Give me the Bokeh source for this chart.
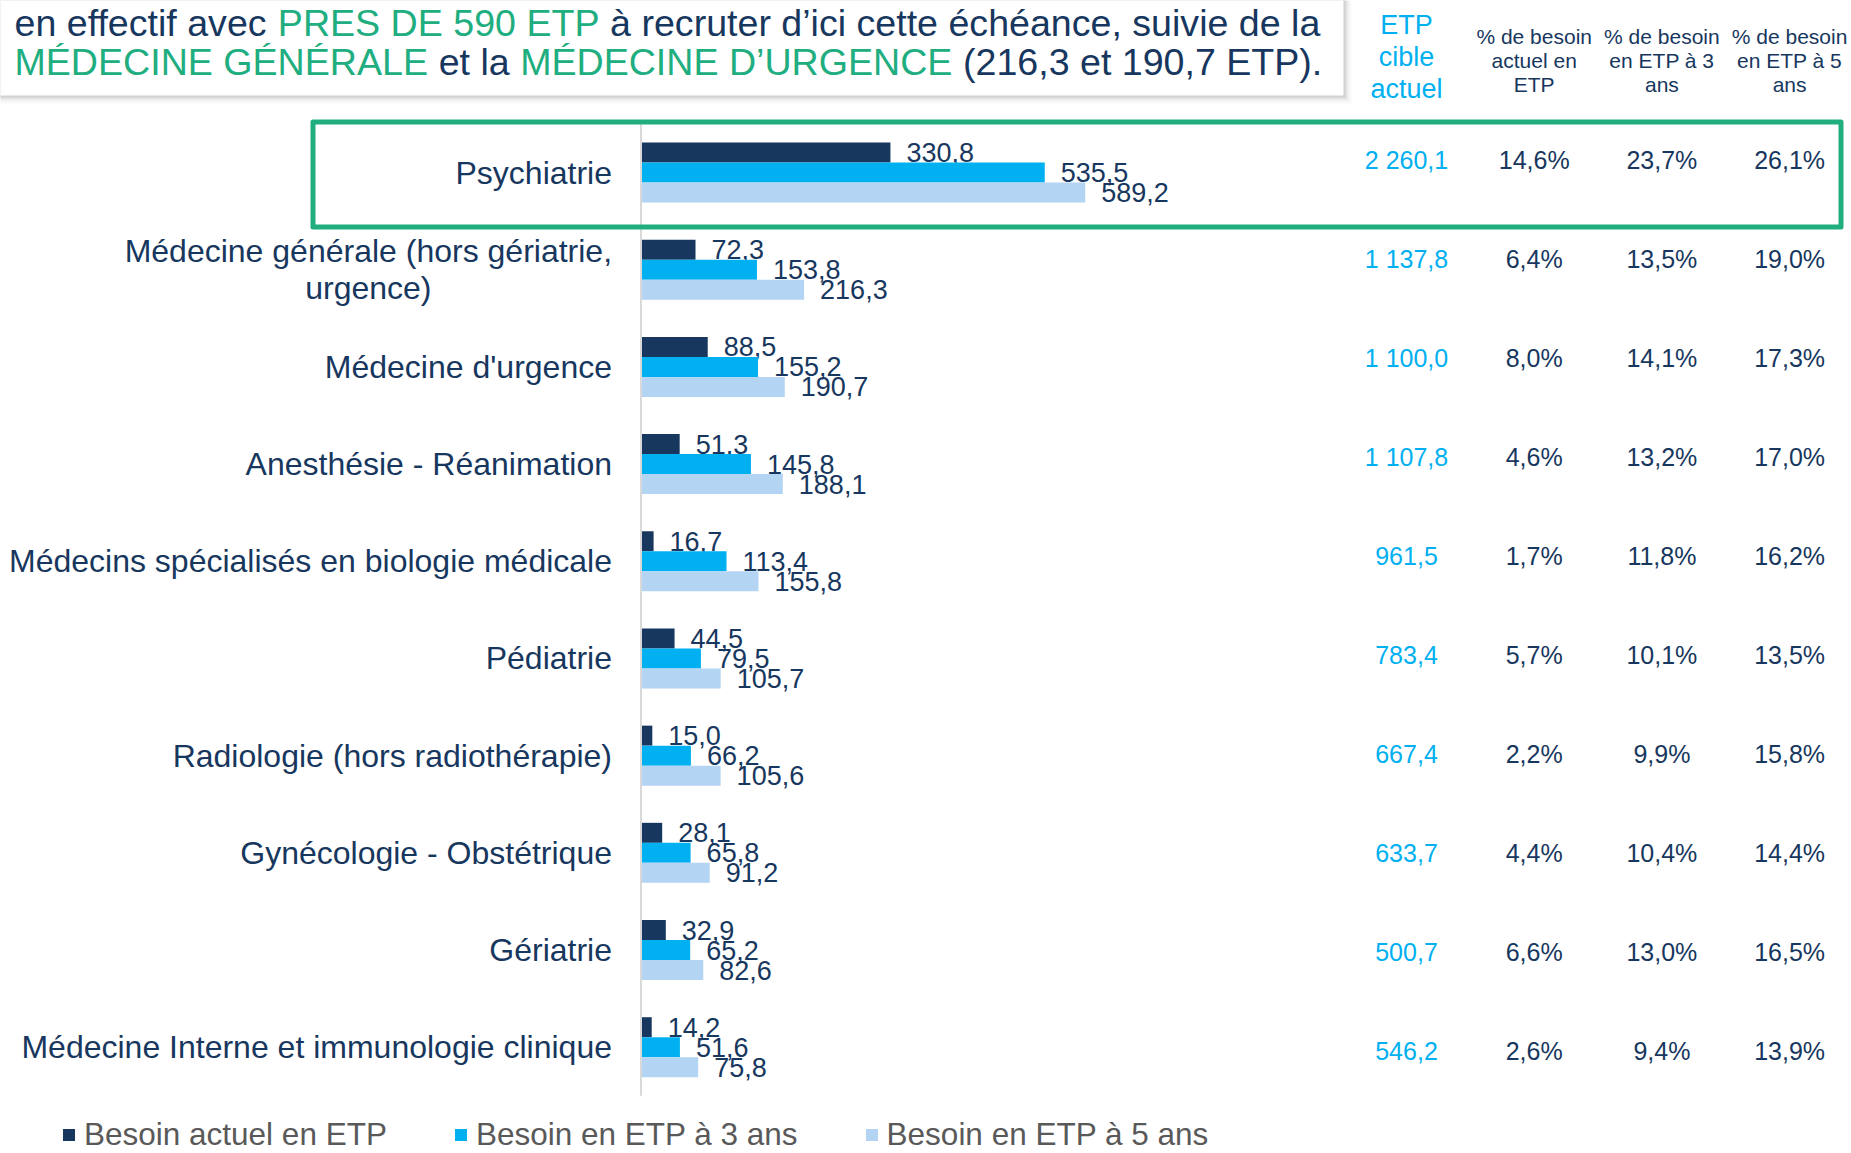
import unicodedata
from bokeh.plotting import figure
from bokeh.models import Range1d, Legend, LegendItem, ColumnDataSource
from bokeh.core.properties import value
from bokeh.embed import file_html
from bokeh.resources import INLINE
from bokeh.transform import dodge

# ---------------- data ----------------
categories = [
    "Psychiatrie",
    "Médecine générale (hors gériatrie,\nurgence)",
    "Médecine d'urgence",
    "Anesthésie - Réanimation",
    "Médecins spécialisés en biologie médicale",
    "Pédiatrie",
    "Radiologie (hors radiothérapie)",
    "Gynécologie - Obstétrique",
    "Gériatrie",
    "Médecine Interne et immunologie clinique",
]
besoin_actuel = [330.8, 72.3, 88.5, 51.3, 16.7, 44.5, 15.0, 28.1, 32.9, 14.2]
besoin_3ans = [535.5, 153.8, 155.2, 145.8, 113.4, 79.5, 66.2, 65.8, 65.2, 51.6]
besoin_5ans = [589.2, 216.3, 190.7, 188.1, 155.8, 105.7, 105.6, 91.2, 82.6, 75.8]
series_labels = ["Besoin actuel en ETP", "Besoin en ETP à 3 ans", "Besoin en ETP à 5 ans"]

etp_cible = [2260.1, 1137.8, 1100.0, 1107.8, 961.5, 783.4, 667.4, 633.7, 500.7, 546.2]
pct_actuel = [14.6, 6.4, 8.0, 4.6, 1.7, 5.7, 2.2, 4.4, 6.6, 2.6]
pct_3ans = [23.7, 13.5, 14.1, 13.2, 11.8, 10.1, 9.9, 10.4, 13.0, 9.4]
pct_5ans = [26.1, 19.0, 17.3, 17.0, 16.2, 13.5, 15.8, 14.4, 16.5, 13.9]
table_headers = [
    "ETP\ncible\nactuel",
    "% de besoin\nactuel en\nETP",
    "% de besoin\nen ETP à 3\nans",
    "% de besoin\nen ETP à 5\nans",
]
highlight = "Psychiatrie"

title_lines = [
    [("en effectif avec ", "n"), ("PRES DE 590 ETP", "g"),
     (" à recruter d’ici cette échéance, suivie de la", "n")],
    [("MÉDECINE GÉNÉRALE", "g"), (" et la ", "n"), ("MÉDECINE D’URGENCE", "g"),
     (" (216,3 et 190,7 ETP).", "n")],
]

# ---------------- style ----------------
NAVY = "#17375E"
CYAN = "#00B0F0"
LIGHT = "#B4D4F3"
GREEN = "#20AE80"
GREY_TXT = "#595959"
FONT = "Liberation Sans"

W, H = 1851, 1153
OFF = 0  # canvas pixel = reference pixel
AXIS_X = 640.5
PX_PER_UNIT = 0.754
ROW0, ROW_STEP = 172.0, 97.19
TROW0, TROW_STEP = 159.3, 99.04
TCOL0, TCOL_STEP = 1406.0, 127.7
BAR_H = 20.0 / ROW_STEP

# Arial / Liberation Sans advance widths (1/1000 em)
_AW = {' ': 278, ',': 278, '.': 278, '(': 333, ')': 333, '’': 222, "'": 191,
       '%': 889, '-': 333}
for _c in "0123456789":
    _AW[_c] = 556
for _c, _w in zip("abcdefghijklmnopqrstuvwxyz",
                  [556, 556, 500, 556, 556, 278, 556, 556, 222, 222, 500, 222, 833,
                   556, 556, 556, 556, 333, 500, 278, 556, 500, 722, 500, 500, 500]):
    _AW[_c] = _w
for _c, _w in zip("ABCDEFGHIJKLMNOPQRSTUVWXYZ",
                  [667, 667, 722, 722, 667, 611, 778, 722, 278, 500, 667, 556, 833,
                   722, 778, 667, 778, 722, 667, 611, 722, 667, 944, 667, 667, 611]):
    _AW[_c] = _w


def text_width(s, size):
    tot = 0
    for ch in s:
        base = unicodedata.normalize("NFD", ch)[0]
        tot += _AW.get(ch, _AW.get(base, 556))
    return tot / 1000.0 * size


def fr1(v):
    s = f"{v:,.1f}"
    return s.replace(",", " ").replace(".", ",")


def pct(v):
    return f"{v:.1f}%".replace(".", ",")


n = len(categories)
p = figure(
    width=W, height=H,
    x_range=Range1d(-(AXIS_X - OFF) / PX_PER_UNIT, (OFF + W - AXIS_X) / PX_PER_UNIT),
    y_range=Range1d((OFF + H - ROW0) / ROW_STEP, (OFF - ROW0) / ROW_STEP),
    output_backend="svg", toolbar_location=None,
    x_axis_location=None, y_axis_location=None,
    min_border=0, outline_line_color=None,
)
p.grid.grid_line_color = None
p.extra_x_ranges = {
    "px": Range1d(OFF, OFF + W),
    "tx": Range1d((OFF - TCOL0) / TCOL_STEP, (OFF + W - TCOL0) / TCOL_STEP),
}
p.extra_y_ranges = {
    "px": Range1d(OFF + H, OFF),
    "ty": Range1d((OFF + H - TROW0) / TROW_STEP, (OFF - TROW0) / TROW_STEP),
}

# ---------------- title box with shadow ----------------
for d, a in [(8, 0.04), (6, 0.07), (4, 0.12), (2, 0.18)]:
    p.quad(left=-20, right=1343 + d, top=-20, bottom=95 + d, x_range_name="px",
           y_range_name="px", fill_color="#808080", fill_alpha=a, line_color=None)
p.quad(left=-20, right=1343, top=-20, bottom=95, x_range_name="px", y_range_name="px",
       fill_color="white", line_color=None)

TITLE_SIZE = 37.6
for segs, mid_y in zip(title_lines, [22.0, 61.0]):
    xs, ys, txt, cols = [], [], [], []
    x = 14.0
    for s, c in segs:
        lead = len(s) - len(s.lstrip(" "))
        xs.append(x + text_width(" " * lead, TITLE_SIZE))
        ys.append(mid_y)
        txt.append(s.strip(" "))
        cols.append(GREEN if c == "g" else NAVY)
        x += text_width(s, TITLE_SIZE)
    p.text(x=xs, y=ys, text=txt, text_color=cols, x_range_name="px", y_range_name="px",
           text_font=value(FONT), text_font_size=f"{TITLE_SIZE}px",
           text_align="left", text_baseline="middle")

# ---------------- bars ----------------
src = ColumnDataSource(dict(
    y=list(range(n)), cat=categories,
    a=besoin_actuel, b=besoin_3ans, c=besoin_5ans,
    la=[fr1(v) for v in besoin_actuel], lb=[fr1(v) for v in besoin_3ans],
    lc=[fr1(v) for v in besoin_5ans],
))
renderers = []
for key, lab, col, off in [("a", "la", NAVY, -BAR_H), ("b", "lb", CYAN, 0.0),
                           ("c", "lc", LIGHT, BAR_H)]:
    r = p.hbar(y=dodge("y", off, range=p.y_range), left=0, right=key, height=BAR_H,
               source=src, fill_color=col, line_color=None)
    renderers.append(r)
    p.text(x=key, y=dodge("y", off, range=p.y_range), text=lab, source=src,
           x_offset=16, text_align="left", text_baseline="middle",
           text_font=value(FONT), text_font_size="27px", text_color=NAVY)

# axis line
p.segment(x0=[0], y0=[-0.5], x1=[0], y1=[n - 0.5], line_color="#D9D9D9", line_width=2)

# category labels
single = [(i, c) for i, c in enumerate(categories) if "\n" not in c]
multi = [(i, c) for i, c in enumerate(categories) if "\n" in c]
p.text(x=[0] * len(single), y=[i for i, _ in single], text=[c for _, c in single],
       x_offset=-29, text_align="right", text_baseline="middle",
       text_font=value(FONT), text_font_size="32px", text_color=NAVY)
for i, c in multi:
    w = max(text_width(s, 32) for s in c.split("\n"))
    p.text(x=[0], y=[i], text=[c], x_offset=-(29 + w / 2), text_align="center",
           text_baseline="middle", text_line_height=1.03,
           text_font=value(FONT), text_font_size="32px", text_color=NAVY)

# highlight box
hi = categories.index(highlight)
p.quad(left=312.5, right=1840.5, top=hi - 0.52, bottom=hi + 0.56, x_range_name="px",
       fill_color=None, line_color=GREEN, line_width=5, line_join="round")

# ---------------- table ----------------
cols_vals = [[fr1(v) for v in etp_cible], [pct(v) for v in pct_actuel],
             [pct(v) for v in pct_3ans], [pct(v) for v in pct_5ans]]
for j, vals in enumerate(cols_vals):
    p.text(x=[j] * n, y=list(range(n)), text=vals, x_range_name="tx", y_range_name="ty",
           text_align="center", text_baseline="middle", text_font=value(FONT),
           text_font_size="25px", text_color=CYAN if j == 0 else NAVY)
for j, h in enumerate(table_headers):
    if j == 0:
        p.text(x=[j], y=[56.5], text=[h], x_range_name="tx", y_range_name="px",
               text_align="center", text_baseline="middle", text_line_height=1.06,
               text_font=value(FONT), text_font_size="27px", text_color=CYAN)
    else:
        p.text(x=[j], y=[60], text=[h], x_range_name="tx", y_range_name="px",
               text_align="center", text_baseline="middle", text_line_height=1.06,
               text_font=value(FONT), text_font_size="21px", text_color=NAVY)

# ---------------- legend ----------------
legend = Legend(
    items=[LegendItem(label=l, renderers=[r]) for l, r in zip(series_labels, renderers)],
    orientation="horizontal", location=(61, 0),
    glyph_width=15, glyph_height=15, label_standoff=8, spacing=66,
    padding=0, margin=0, border_line_color=None, background_fill_alpha=0,
    label_text_font=FONT, label_text_font_size="31.5px", label_text_color=GREY_TXT,
)
p.add_layout(legend)

open("out.html", "w").write(file_html(p, INLINE))
